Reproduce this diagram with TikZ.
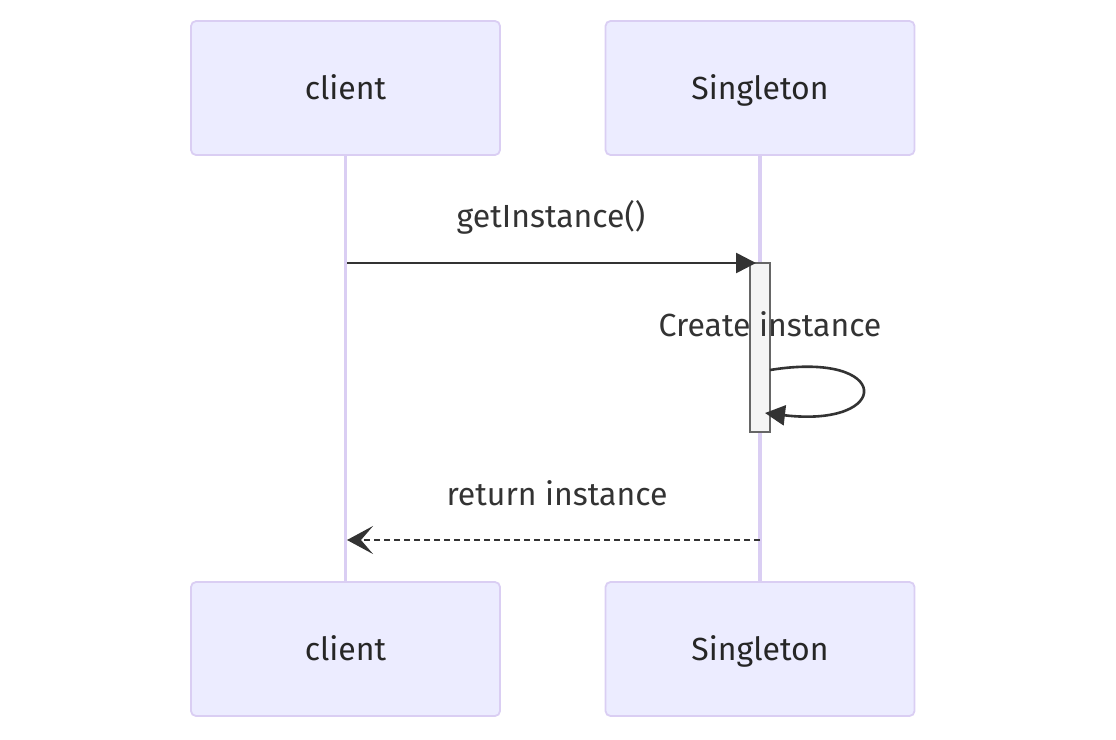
\documentclass[tikz,border=0pt]{standalone}
\usepackage{fontspec}
\setmainfont{Fira Sans}
\usetikzlibrary{arrows.meta}
\definecolor{actbg}{HTML}{ECECFF}
\definecolor{actborder}{HTML}{DACEF3}
\definecolor{msg}{HTML}{333333}
\definecolor{actvbg}{HTML}{F4F4F4}
\definecolor{actvborder}{HTML}{666666}
\tikzset{
  actor/.style={draw=actborder, fill=actbg, line width=1.8pt, rounded corners=5pt,
    minimum width=309pt, minimum height=134pt, inner sep=0pt,
    text height=23pt, text depth=0pt,
    font=\fontsize{32}{38}\selectfont, text=black!85},
  lifeline/.style={draw=actborder, line width=3.2pt},
  msgline/.style={draw=msg, line width=2.6pt},
  solidtip/.style={-{Triangle[length=20pt,width=20pt]}},
  opentip/.style={-{Stealth[length=26pt,width=28pt,inset=12pt]}},
  msglabel/.style={font=\fontsize{32}{38}\selectfont, text=msg, inner sep=0pt,
    text height=23pt, text depth=0pt},
  activation/.style={draw=actvborder, fill=actvbg, line width=1.6pt, minimum width=20pt, minimum height=169pt, inner sep=0pt}
}
\begin{document}
\begin{tikzpicture}[x=1pt,y=-1pt]
\useasboundingbox (0,0) rectangle (1116,739);
\node[actor] (c1) at (345.5,88) {client};
\node[actor] (s1) at (760,88) {Singleton};
\node[actor] (c2) at (345.5,649) {client};
\node[actor] (s2) at (760,649) {Singleton};
\draw[lifeline] (c1.south) -- (c2.north);
\draw[lifeline] (s1.south) -- (s2.north);
\node[activation] (act) at (760,347.5) {};
\coordinate (m1s) at (347,263);
\coordinate (m1e) at (756,263);
\draw[msgline,solidtip] (m1s) -- (m1e);
\node[msglabel] (l1) at (551,216) {getInstance()};
\node[msglabel] (l2) at (770,325) {Create instance};
\coordinate (ls) at (770,370);
\coordinate (le) at (765,413);
\draw[msgline,solidtip] (ls) .. controls (893,350) and (893,428) .. (le);
\node[msglabel] (l3) at (557,494) {return instance};
\coordinate (r1s) at (760,540);
\coordinate (r1e) at (347,540);
\draw[msgline,opentip,dash pattern=on 6pt off 4pt] (r1s) -- (r1e);
\end{tikzpicture}
\end{document}
